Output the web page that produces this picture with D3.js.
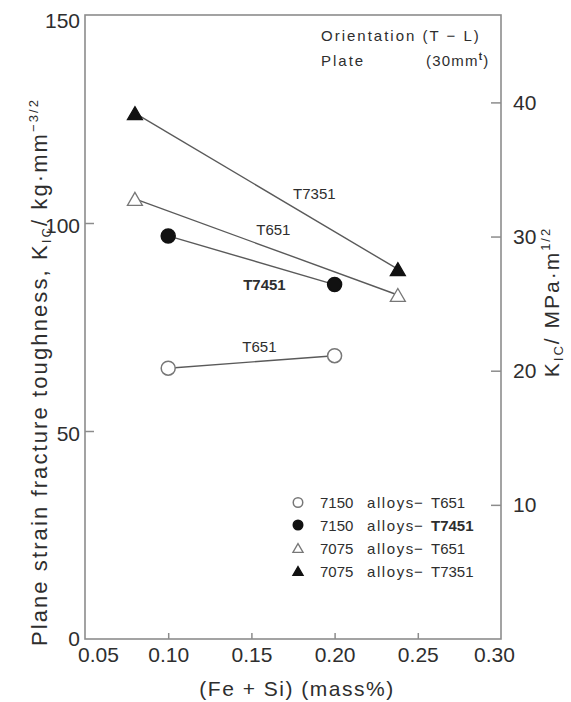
<!DOCTYPE html>
<html><head><meta charset="utf-8">
<script src="https://cdn.jsdelivr.net/npm/d3@7"></script>
<style>
body{margin:0;background:#fff;}
svg{display:block;}
text{font-family:"Liberation Sans",Arial,Helvetica,sans-serif;fill:#2e2e2e;}
</style></head>
<body>
<script>
// ---- data ----
const xTicks = [0.05, 0.10, 0.15, 0.20, 0.25, 0.30];
const yTicksKg = [0, 50, 100, 150];
const yTicksMPa = [10, 20, 30, 40];
const kgToMPa = 0.3101;

const x7150 = [0.10, 0.20];
const k7150_T651 = [65.1, 68.1];
const k7150_T7451 = [96.9, 85.2];
const x7075 = [0.08, 0.238];
const k7075_T651 = [105.8, 82.7];
const k7075_T7351 = [126.4, 88.9];

const seriesNames = ["7150 alloys \u2212 T651", "7150 alloys \u2212 T7451", "7075 alloys \u2212 T651", "7075 alloys \u2212 T7351"];
const lineLabels = ["T651", "T7451", "T651", "T7351"];

// ---- layout ----
const W = 571, H = 702;
const L = 85, R = 501, T = 15, B = 639;

const svg = d3.select("body").append("svg").attr("width", W).attr("height", H);

const x = d3.scaleLinear().domain([0.05, 0.30]).range([L, R]);
const y = d3.scaleLinear().domain([0, 150]).range([B, T]);
const yR = d3.scaleLinear().domain([0, 150 * kgToMPa]).range([B, T]);

const axisColor = "#8c8c8c";
const lineColor = "#5a5a5a";

// frame
svg.append("rect").attr("x", L).attr("y", T).attr("width", R - L).attr("height", B - T)
  .attr("fill", "none").attr("stroke", axisColor).attr("stroke-width", 1.6);

// left axis
const gL = svg.append("g").attr("transform", `translate(${L},0)`)
  .call(d3.axisLeft(y).tickValues(yTicksKg).tickSize(-9).tickPadding(5).tickFormat(d3.format("d")));
gL.select(".domain").remove();
gL.selectAll(".tick line").attr("stroke", axisColor).attr("stroke-width", 1.5)
  .filter(d => d === 0 || d === 150).remove();
gL.selectAll(".tick text").attr("font-size", 21).attr("fill", "#2e2e2e")
  .attr("transform", d => `translate(0,${d === 150 ? 6 : d === 0 ? 0 : 3})`);

// bottom axis
const gB = svg.append("g").attr("transform", `translate(0,${B})`)
  .call(d3.axisBottom(x).tickValues(xTicks).tickSize(-6).tickPadding(8).tickFormat(d3.format(".2f")));
gB.select(".domain").remove();
gB.selectAll(".tick line").attr("stroke", axisColor).attr("stroke-width", 1.5)
  .filter(d => d === 0.05 || d === 0.30).remove();
gB.selectAll(".tick text").attr("font-size", 21).attr("fill", "#2e2e2e")
  .attr("transform", d => `translate(${d === 0.05 ? 13 : d === 0.30 ? -7 : 0},0)`);

// right axis
const gR = svg.append("g").attr("transform", `translate(${R},0)`)
  .call(d3.axisRight(yR).tickValues(yTicksMPa).tickSize(-10).tickPadding(12).tickFormat(d3.format("d")));
gR.select(".domain").remove();
gR.selectAll(".tick line").attr("stroke", axisColor).attr("stroke-width", 1.5);
gR.selectAll(".tick text").attr("font-size", 21).attr("fill", "#2e2e2e");

// axis titles
const yt = svg.append("text").attr("transform", "translate(47,372) rotate(-90)")
  .attr("text-anchor", "middle").attr("font-size", 22).attr("letter-spacing", 2.1);
yt.append("tspan").text("Plane strain fracture toughness, K");
yt.append("tspan").attr("font-size", 13).attr("dy", 4).text("IC");
yt.append("tspan").attr("dy", -4).text("/ kg\u00b7mm");
yt.append("tspan").attr("font-size", 13).attr("dy", -9).text("\u22123/2");

const yt2 = svg.append("text").attr("transform", "translate(559,302) rotate(-90)")
  .attr("text-anchor", "middle").attr("font-size", 21).attr("letter-spacing", 2);
yt2.append("tspan").text("K");
yt2.append("tspan").attr("font-size", 13).attr("dy", 4).text("IC");
yt2.append("tspan").attr("dy", -4).text("/ MPa\u00b7m");
yt2.append("tspan").attr("font-size", 13).attr("dy", -9).text("1/2");

svg.append("text").attr("x", 297).attr("y", 696).attr("text-anchor", "middle")
  .attr("font-size", 21).attr("letter-spacing", 1.5).text("(Fe + Si) (mass%)");

// annotation
svg.append("text").attr("x", 321).attr("y", 41).attr("font-size", 15).attr("letter-spacing", 2.0)
  .text("Orientation (T \u2212 L)");
svg.append("text").attr("x", 321).attr("y", 66).attr("font-size", 15).attr("letter-spacing", 2.0)
  .text("Plate");
const pt = svg.append("text").attr("x", 426).attr("y", 66).attr("font-size", 15).attr("letter-spacing", 1.2);
pt.append("tspan").text("(30mm");
pt.append("tspan").attr("font-size", 10).attr("font-weight", "bold").attr("dy", -6).text("t");
pt.append("tspan").attr("dy", 6).text(")");

// series
const series = [
  {xs: x7150, ys: k7150_T651, shape: "circle", fill: "#fff"},
  {xs: x7150, ys: k7150_T7451, shape: "circle", fill: "#111"},
  {xs: x7075, ys: k7075_T651, shape: "tri", fill: "#fff"},
  {xs: x7075, ys: k7075_T7351, shape: "tri", fill: "#111"},
];
const line = d3.line().x(d => x(d[0])).y(d => y(d[1]));

function marker(g, shape, fill, cx, cy, s) {
  if (shape === "circle") {
    g.append("circle").attr("cx", cx).attr("cy", cy).attr("r", 7 * s)
      .attr("fill", fill).attr("stroke", fill === "#fff" ? "#777" : "#111").attr("stroke-width", 1.5);
  } else {
    const w = 15 * s, h = 13 * s;
    g.append("path").attr("d", `M${cx},${cy - h / 2}L${cx + w / 2},${cy + h / 2}L${cx - w / 2},${cy + h / 2}Z`)
      .attr("fill", fill).attr("stroke", fill === "#fff" ? "#777" : "#111").attr("stroke-width", 1.3)
      .attr("stroke-linejoin", "miter");
  }
}

const gS = svg.append("g");
series.forEach(s => {
  const pts = s.xs.map((v, i) => [v, s.ys[i]]);
  gS.append("path").attr("d", line(pts)).attr("fill", "none").attr("stroke", lineColor).attr("stroke-width", 1.4);
});
series.forEach(s => {
  s.xs.forEach((v, i) => marker(gS, s.shape, s.fill, x(v), y(s.ys[i]), 1));
});

// line labels (offset from each segment's midpoint)
const lblPos = [
  {s: 0, dx: 8, dy: -15, bold: false},
  {s: 1, dx: 13, dy: 24, bold: true},
  {s: 2, dx: 7, dy: -17, bold: false},
  {s: 3, dx: 48, dy: 2, bold: false},
];
lblPos.forEach(p => {
  const s = series[p.s];
  const mx = (x(s.xs[0]) + x(s.xs[1])) / 2, my = (y(s.ys[0]) + y(s.ys[1])) / 2;
  svg.append("text").attr("x", mx + p.dx).attr("y", my + p.dy).attr("text-anchor", "middle")
    .attr("dominant-baseline", "central")
    .attr("font-size", 15).attr("font-weight", p.bold ? "bold" : "normal")
    .attr("fill", p.bold ? "#000" : "#333").text(lineLabels[p.s]);
});

// legend
const legY = [502.5, 525, 548, 571];
series.forEach((s, i) => {
  marker(svg, s.shape, s.fill, 298, legY[i], 0.68);
  const parts = seriesNames[i].split(" ");
  svg.append("text").attr("x", 320).attr("y", legY[i]).attr("dominant-baseline", "central")
    .attr("font-size", 15).attr("fill", "#3a3a3a").text(parts[0]);
  svg.append("text").attr("x", 367).attr("y", legY[i]).attr("dominant-baseline", "central")
    .attr("font-size", 15).attr("letter-spacing", 1.6).attr("fill", "#3a3a3a").text(parts[1]);
  svg.append("text").attr("x", 414).attr("y", legY[i]).attr("dominant-baseline", "central")
    .attr("font-size", 15).attr("fill", "#3a3a3a").text(parts[2]);
  svg.append("text").attr("x", 431).attr("y", legY[i]).attr("dominant-baseline", "central")
    .attr("font-size", 15).attr("font-weight", i === 1 ? "bold" : "normal")
    .attr("fill", i === 1 ? "#000" : "#3a3a3a").text(parts[3]);
});
</script>
</body></html>
